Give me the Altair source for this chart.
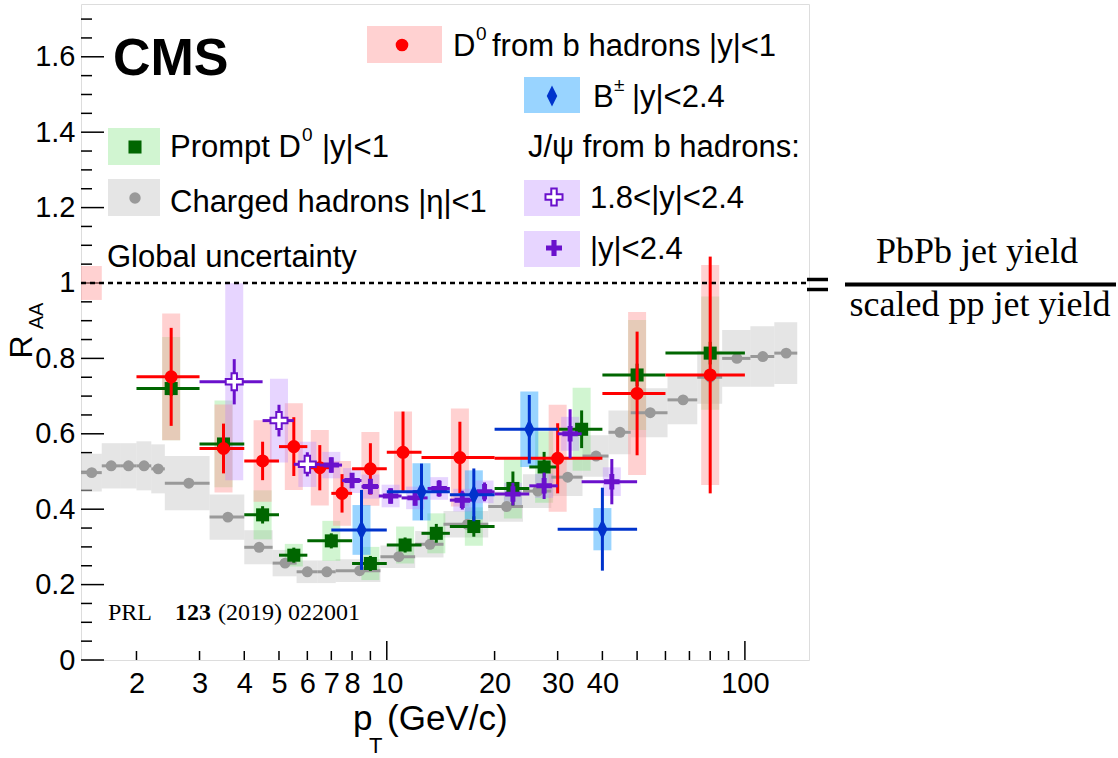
import altair as alt
import pandas as pd

# ---------------- data ----------------
# Charged hadrons |eta|<1
ch_lo = [1.4, 1.6, 1.8, 2.0, 2.2, 2.4, 3.2, 4.0, 4.8, 5.6, 6.4, 7.2, 9.6, 12.0, 14.4, 19.2, 24.0, 28.8, 35.2, 41.6, 48.0, 60.8, 73.6, 86.4, 103.6, 120.8]
ch_hi = [1.6, 1.8, 2.0, 2.2, 2.4, 3.2, 4.0, 4.8, 5.6, 6.4, 7.2, 9.6, 12.0, 14.4, 19.2, 24.0, 28.8, 35.2, 41.6, 48.0, 60.8, 73.6, 86.4, 103.6, 120.8, 140.0]
ch_x = [1.5, 1.7, 1.9, 2.1, 2.3, 2.8, 3.6, 4.4, 5.2, 6.0, 6.8, 8.4, 10.8, 13.2, 16.8, 21.6, 26.4, 32.0, 38.4, 44.8, 54.4, 67.2, 80.0, 95.0, 112.2, 130.4]
ch_y = [0.497, 0.515, 0.515, 0.515, 0.507, 0.469, 0.379, 0.299, 0.257, 0.234, 0.234, 0.237, 0.274, 0.307, 0.36, 0.407, 0.448, 0.485, 0.541, 0.604, 0.656, 0.690, 0.75, 0.800, 0.805, 0.814]
ch_sys = [0.05, 0.06, 0.06, 0.065, 0.065, 0.072, 0.06, 0.045, 0.035, 0.03, 0.03, 0.03, 0.03, 0.035, 0.035, 0.04, 0.045, 0.05, 0.055, 0.058, 0.065, 0.065, 0.07, 0.075, 0.08, 0.082]

# Prompt D0 |y|<1
pd_lo = [2, 3, 4, 5, 6, 8, 10, 12.5, 15, 20, 25, 30, 40, 60]
pd_hi = [3, 4, 5, 6, 8, 10, 12.5, 15, 20, 25, 30, 40, 60, 100]
pd_x = [2.5, 3.5, 4.5, 5.5, 7, 9, 11.25, 13.75, 17.5, 22.5, 27.5, 35, 50, 80]
pd_y = [0.72, 0.573, 0.385, 0.278, 0.316, 0.256, 0.305, 0.336, 0.354, 0.455, 0.512, 0.612, 0.756, 0.814]
pd_stat = [0.02, 0.02, 0.023, 0.02, 0.02, 0.02, 0.02, 0.025, 0.027, 0.045, 0.04, 0.05, 0.03, 0.03]
pd_sys = [0.137, 0.115, 0.065, 0.03, 0.053, 0.044, 0.049, 0.053, 0.051, 0.08, 0.095, 0.11, 0.146, 0.15]

# D0 from b hadrons |y|<1
nd_lo = [2, 3, 4, 5, 6, 7, 8, 10, 12.5, 20, 40, 60]
nd_hi = [3, 4, 5, 6, 7, 8, 10, 12.5, 20, 40, 60, 100]
nd_x = [2.5, 3.5, 4.5, 5.5, 6.5, 7.5, 9, 11.1, 16, 30, 50, 80]
nd_y = [0.751, 0.561, 0.528, 0.566, 0.51, 0.442, 0.507, 0.551, 0.537, 0.535, 0.707, 0.756]
nd_stat = [0.13, 0.066, 0.051, 0.078, 0.06, 0.051, 0.068, 0.108, 0.095, 0.093, 0.164, 0.314]
nd_sys = [0.168, 0.117, 0.108, 0.115, 0.10, 0.086, 0.098, 0.108, 0.13, 0.142, 0.216, 0.292]

# B+- |y|<2.4
b_lo = [7, 10, 15, 20, 30]
b_hi = [10, 15, 20, 30, 50]
b_x = [8.5, 12.5, 17.5, 25, 40]
b_y = [0.345, 0.446, 0.438, 0.612, 0.347]
b_stat = [0.106, 0.075, 0.07, 0.091, 0.11]
b_sys = [0.066, 0.076, 0.065, 0.1, 0.056]

# J/psi from b hadrons, 1.8<|y|<2.4
jf_lo = [3, 4.5, 5.5]
jf_hi = [4.5, 5.5, 6.5]
jf_x = [3.75, 5, 6]
jf_y = [0.738, 0.635, 0.519]
jf_stat = [0.06, 0.042, 0.032]
jf_sys = [0.261, 0.111, 0.06]

# J/psi from b hadrons, |y|<2.4
jc_lo = [6.5, 7.5, 8.5, 9.5, 11, 13, 15, 17.5, 20, 25, 30, 35]
jc_hi = [7.5, 8.5, 9.5, 11, 13, 15, 17.5, 20, 25, 30, 35, 50]
jc_x = [7, 8, 9, 10.25, 12, 14, 16.25, 18.75, 22.5, 27.5, 32.5, 42.5]
jc_y = [0.517, 0.476, 0.46, 0.435, 0.43, 0.455, 0.424, 0.446, 0.44, 0.462, 0.60, 0.473]
jc_stat = [0.02, 0.02, 0.02, 0.02, 0.02, 0.022, 0.025, 0.025, 0.03, 0.035, 0.065, 0.06]
jc_sys = [0.035, 0.033, 0.032, 0.03, 0.03, 0.03, 0.03, 0.03, 0.03, 0.032, 0.045, 0.038]

# global uncertainty box
glob_x = [1.4, 1.6]
glob_y = [0.955, 1.045]

x_labels = [2, 3, 4, 5, 6, 7, 8, 10, 20, 30, 40, 100]
y_labels = [0, 0.2, 0.4, 0.6, 0.8, 1.0, 1.2, 1.4, 1.6]
x_major = [10, 100]
x_minor = [2, 3, 4, 5, 6, 7, 8, 9, 20, 30, 40, 50, 60, 70, 80, 90]
y_minor = [round(0.05 * i, 2) for i in range(1, 35) if i % 4 != 0]

# ---------------- styles ----------------
W, H = 728, 656
OX, OY = 81, 4
FONT = "Liberation Sans"
SERIF = "Liberation Serif"

RED, GREEN, GRAY, BLUE, PURPLE = "#ff0000", "#006600", "#999999", "#0033cc", "#6a11cc"
BOX = {
    "red": ("#ff9999", 0.45),
    "green": ("#66dd66", 0.3),
    "gray": ("#cccccc", 0.5),
    "blue": ("#33aaff", 0.5),
    "purple": ("#bb88ff", 0.35),
}
DIAMOND = "M0,-1L0.5,0L0,1L-0.5,0Z"
CROSS = ("M-0.32,-1L0.32,-1L0.32,-0.32L1,-0.32L1,0.32L0.32,0.32L0.32,1L-0.32,1"
         "L-0.32,0.32L-1,0.32L-1,-0.32L-0.32,-0.32Z")

xs = alt.Scale(type="log", domain=[1.4, 151], nice=False)
ys = alt.Scale(domain=[0, 1.74], nice=False, zero=False)
xaxis = alt.Axis(values=x_labels, format="d", ticks=False, domain=False, grid=False,
                 labelFont=FONT, labelFontSize=29, labelPadding=9, labelColor="black",
                 labelFlush=False, labelOverlap=False, title=None)
yaxis = alt.Axis(values=y_labels, format=".1~f", ticks=False, domain=False, grid=False,
                 labelFont=FONT, labelFontSize=29, labelPadding=6, labelColor="black",
                 labelFlush=False, labelOverlap=False, title=None)


def X(f):
    return alt.X(f, type="quantitative", scale=xs, axis=xaxis)


def Y(f):
    return alt.Y(f, type="quantitative", scale=ys, axis=yaxis)


def frame(x, y, lo, hi, stat=None, sys=None):
    d = {"x": x, "y": y, "lo": lo, "hi": hi}
    if stat is not None:
        d["elo"] = [a - b for a, b in zip(y, stat)]
        d["ehi"] = [a + b for a, b in zip(y, stat)]
    if sys is not None:
        d["slo"] = [a - b for a, b in zip(y, sys)]
        d["shi"] = [a + b for a, b in zip(y, sys)]
    return pd.DataFrame(d)


ch = frame(ch_x, ch_y, ch_lo, ch_hi, None, ch_sys)
pdf = frame(pd_x, pd_y, pd_lo, pd_hi, pd_stat, pd_sys)
nd = frame(nd_x, nd_y, nd_lo, nd_hi, nd_stat, nd_sys)
bb = frame(b_x, b_y, b_lo, b_hi, b_stat, b_sys)
jf = frame(jf_x, jf_y, jf_lo, jf_hi, jf_stat, jf_sys)
jc = frame(jc_x, jc_y, jc_lo, jc_hi, jc_stat, jc_sys)
gl = pd.DataFrame({"x": [glob_x[0]], "x2": [glob_x[1]], "y": [glob_y[0]], "y2": [glob_y[1]]})
one = pd.DataFrame({"a": [0]})


def sysbox(df, key):
    c, o = BOX[key]
    return alt.Chart(df).mark_rule(color=c, opacity=o, strokeWidth=18, strokeCap="butt").encode(
        x=X("x"), y=Y("slo"), y2="shi")


def hbar(df, color, w=3):
    return alt.Chart(df).mark_rule(color=color, strokeWidth=w).encode(x=X("lo"), x2="hi", y=Y("y"))


def vbar(df, color, w=3):
    return alt.Chart(df).mark_rule(color=color, strokeWidth=w).encode(x=X("x"), y=Y("elo"), y2="ehi")


def marker(df, shape, size, color, fill=None):
    kw = dict(shape=shape, size=size, opacity=1, filled=True)
    if fill is None:
        kw.update(color=color)
    else:
        kw.update(fill=fill, stroke=color, strokeWidth=2)
    return alt.Chart(df).mark_point(**kw).encode(x=X("x"), y=Y("y"))


def T(s, x, y, size, font=FONT, weight="normal", align="left", angle=0, baseline="alphabetic"):
    return alt.Chart(one).mark_text(text=s, font=font, fontSize=size, fontWeight=weight, align=align,
                                    baseline=baseline, angle=angle, color="black").encode(
        x=alt.value(x - OX), y=alt.value(y - OY))


def R(x1, y1, x2, y2, w, color="black", dash=None):
    kw = dict(color=color, strokeWidth=w)
    if dash is not None:
        kw["strokeDash"] = dash
    return alt.Chart(one).mark_rule(**kw).encode(
        x=alt.value(x1 - OX), y=alt.value(y1 - OY), x2=alt.value(x2 - OX), y2=alt.value(y2 - OY))


def LB(x1, y1, x2, y2, key):
    c, o = BOX[key]
    return alt.Chart(one).mark_rect(color=c, opacity=o).encode(
        x=alt.value(x1 - OX), y=alt.value(y1 - OY), x2=alt.value(x2 - OX), y2=alt.value(y2 - OY))


def LM(x, y, shape, size, color, fill=None):
    kw = dict(shape=shape, size=size, opacity=1, filled=True)
    if fill is None:
        kw.update(color=color)
    else:
        kw.update(fill=fill, stroke=color, strokeWidth=2)
    return alt.Chart(one).mark_point(**kw).encode(x=alt.value(x - OX), y=alt.value(y - OY))


layers = []
# axis ticks (inward, ROOT style)
layers.append(alt.Chart(pd.DataFrame({"y": y_labels})).mark_rule(color="black", strokeWidth=1.5).encode(
    y=Y("y"), x=alt.value(0), x2=alt.value(23)))
layers.append(alt.Chart(pd.DataFrame({"y": y_minor})).mark_rule(color="black", strokeWidth=1.5).encode(
    y=Y("y"), x=alt.value(0), x2=alt.value(11)))
layers.append(alt.Chart(pd.DataFrame({"x": x_major})).mark_rule(color="black", strokeWidth=1.5).encode(
    x=X("x"), y=alt.value(H), y2=alt.value(H - 19)))
layers.append(alt.Chart(pd.DataFrame({"x": x_minor})).mark_rule(color="black", strokeWidth=1.5).encode(
    x=X("x"), y=alt.value(H), y2=alt.value(H - 9)))

# systematic boxes
c, o = BOX["gray"]
layers.append(alt.Chart(ch).mark_rect(color=c, opacity=o).encode(x=X("lo"), x2="hi", y=Y("slo"), y2="shi"))
layers.append(sysbox(pdf, "green"))
layers.append(sysbox(nd, "red"))
layers.append(sysbox(bb, "blue"))
layers.append(sysbox(jf, "purple"))
layers.append(sysbox(jc, "purple"))
c, o = BOX["red"]
layers.append(alt.Chart(gl).mark_rect(color=c, opacity=o).encode(x=X("x"), x2="x2", y=Y("y"), y2="y2"))

# dashed unity line (extends to the "=" sign)
layers.append(alt.Chart(pd.DataFrame({"y": [1.0]})).mark_rule(color="black", strokeWidth=2.5, strokeDash=[5, 4]).encode(
    y=Y("y"), x=alt.value(0), x2=alt.value(729)))

# charged hadrons
layers.append(hbar(ch, GRAY))
layers.append(marker(ch, "circle", 120, GRAY))
# prompt D0
layers.append(hbar(pdf, GREEN))
layers.append(vbar(pdf, GREEN))
layers.append(marker(pdf, "square", 170, GREEN))
# D0 from b
layers.append(hbar(nd, RED))
layers.append(vbar(nd, RED))
layers.append(marker(nd, "circle", 170, RED))
# J/psi
layers.append(hbar(jf, PURPLE))
layers.append(vbar(jf, PURPLE))
layers.append(marker(jf, CROSS, 290, PURPLE, fill="white"))
layers.append(hbar(jc, PURPLE))
layers.append(vbar(jc, PURPLE))
layers.append(marker(jc, CROSS, 240, PURPLE))
# B+-
layers.append(hbar(bb, BLUE))
layers.append(vbar(bb, BLUE))
layers.append(marker(bb, DIAMOND, 420, BLUE))

# ---------------- legend & annotations (page coordinates) ----------------
LS = 31
layers += [
    T("CMS", 113, 75, 52, weight="bold"),
    LB(367, 26, 442, 63, "red"), LM(402, 45, "circle", 160, RED),
    T("D", 453, 56, LS), T("0", 476, 40, 19), T("from b hadrons |y|<1", 492, 56, LS),
    LB(524, 77, 580, 113, "blue"), LM(552, 96, DIAMOND, 440, BLUE),
    T("B", 593, 107, LS), T("\u00b1", 614, 91, 19), T("|y|<2.4", 632, 107, LS),
    T("J/\u03c8 from b hadrons:", 528, 157, LS),
    LB(524, 180, 580, 216, "purple"), LM(554, 197, CROSS, 290, PURPLE, fill="white"),
    T("1.8<|y|<2.4", 590, 208, LS),
    LB(524, 231, 580, 267, "purple"), LM(554, 248, CROSS, 256, PURPLE),
    T("|y|<2.4", 590, 259, LS),
    LB(108, 128, 160, 165, "green"), LM(135, 147, "square", 170, GREEN),
    T("Prompt D", 170, 157, LS), T("0", 302, 141, 19), T("|y|<1", 322, 157, LS),
    LB(108, 179, 160, 216, "gray"), LM(135, 198, "circle", 130, GRAY),
    T("Charged hadrons |\u03b7|<1", 170, 212, LS),
    T("Global uncertainty", 107, 267, LS),
    T("PRL", 108, 620, 24, font=SERIF), T("123", 175, 620, 24, font=SERIF, weight="bold"),
    T("(2019) 022001", 218, 620, 24, font=SERIF),
    # axis titles
    T("R", 22, 347, 32, angle=270, align="center", baseline="middle"),
    T("AA", 37, 316, 20, angle=270, align="center", baseline="middle"),
    T("p", 353, 730, 35), T("T", 369, 753, 22), T("(GeV/c)", 387, 730, 35),
    # "= PbPb jet yield / scaled pp jet yield"
    R(807, 279.5, 828, 279.5, 3.5), R(807, 289.5, 828, 289.5, 3.5),
    T("PbPb jet yield", 977, 263, 36, font=SERIF, align="center"),
    R(845, 284.5, 1116, 284.5, 4),
    T("scaled pp jet yield", 980, 316, 36, font=SERIF, align="center"),
]

chart = alt.layer(*layers).properties(
    width=W, height=H,
    padding={"left": OX, "top": OY, "right": 1118 - OX - W, "bottom": 758 - OY - H},
    autosize=alt.AutoSizeParams(type="none"),
).configure_view(stroke="black", strokeWidth=1.5).configure(background="white")

chart.save("out.html", embed_options={"renderer": "svg", "actions": False})
